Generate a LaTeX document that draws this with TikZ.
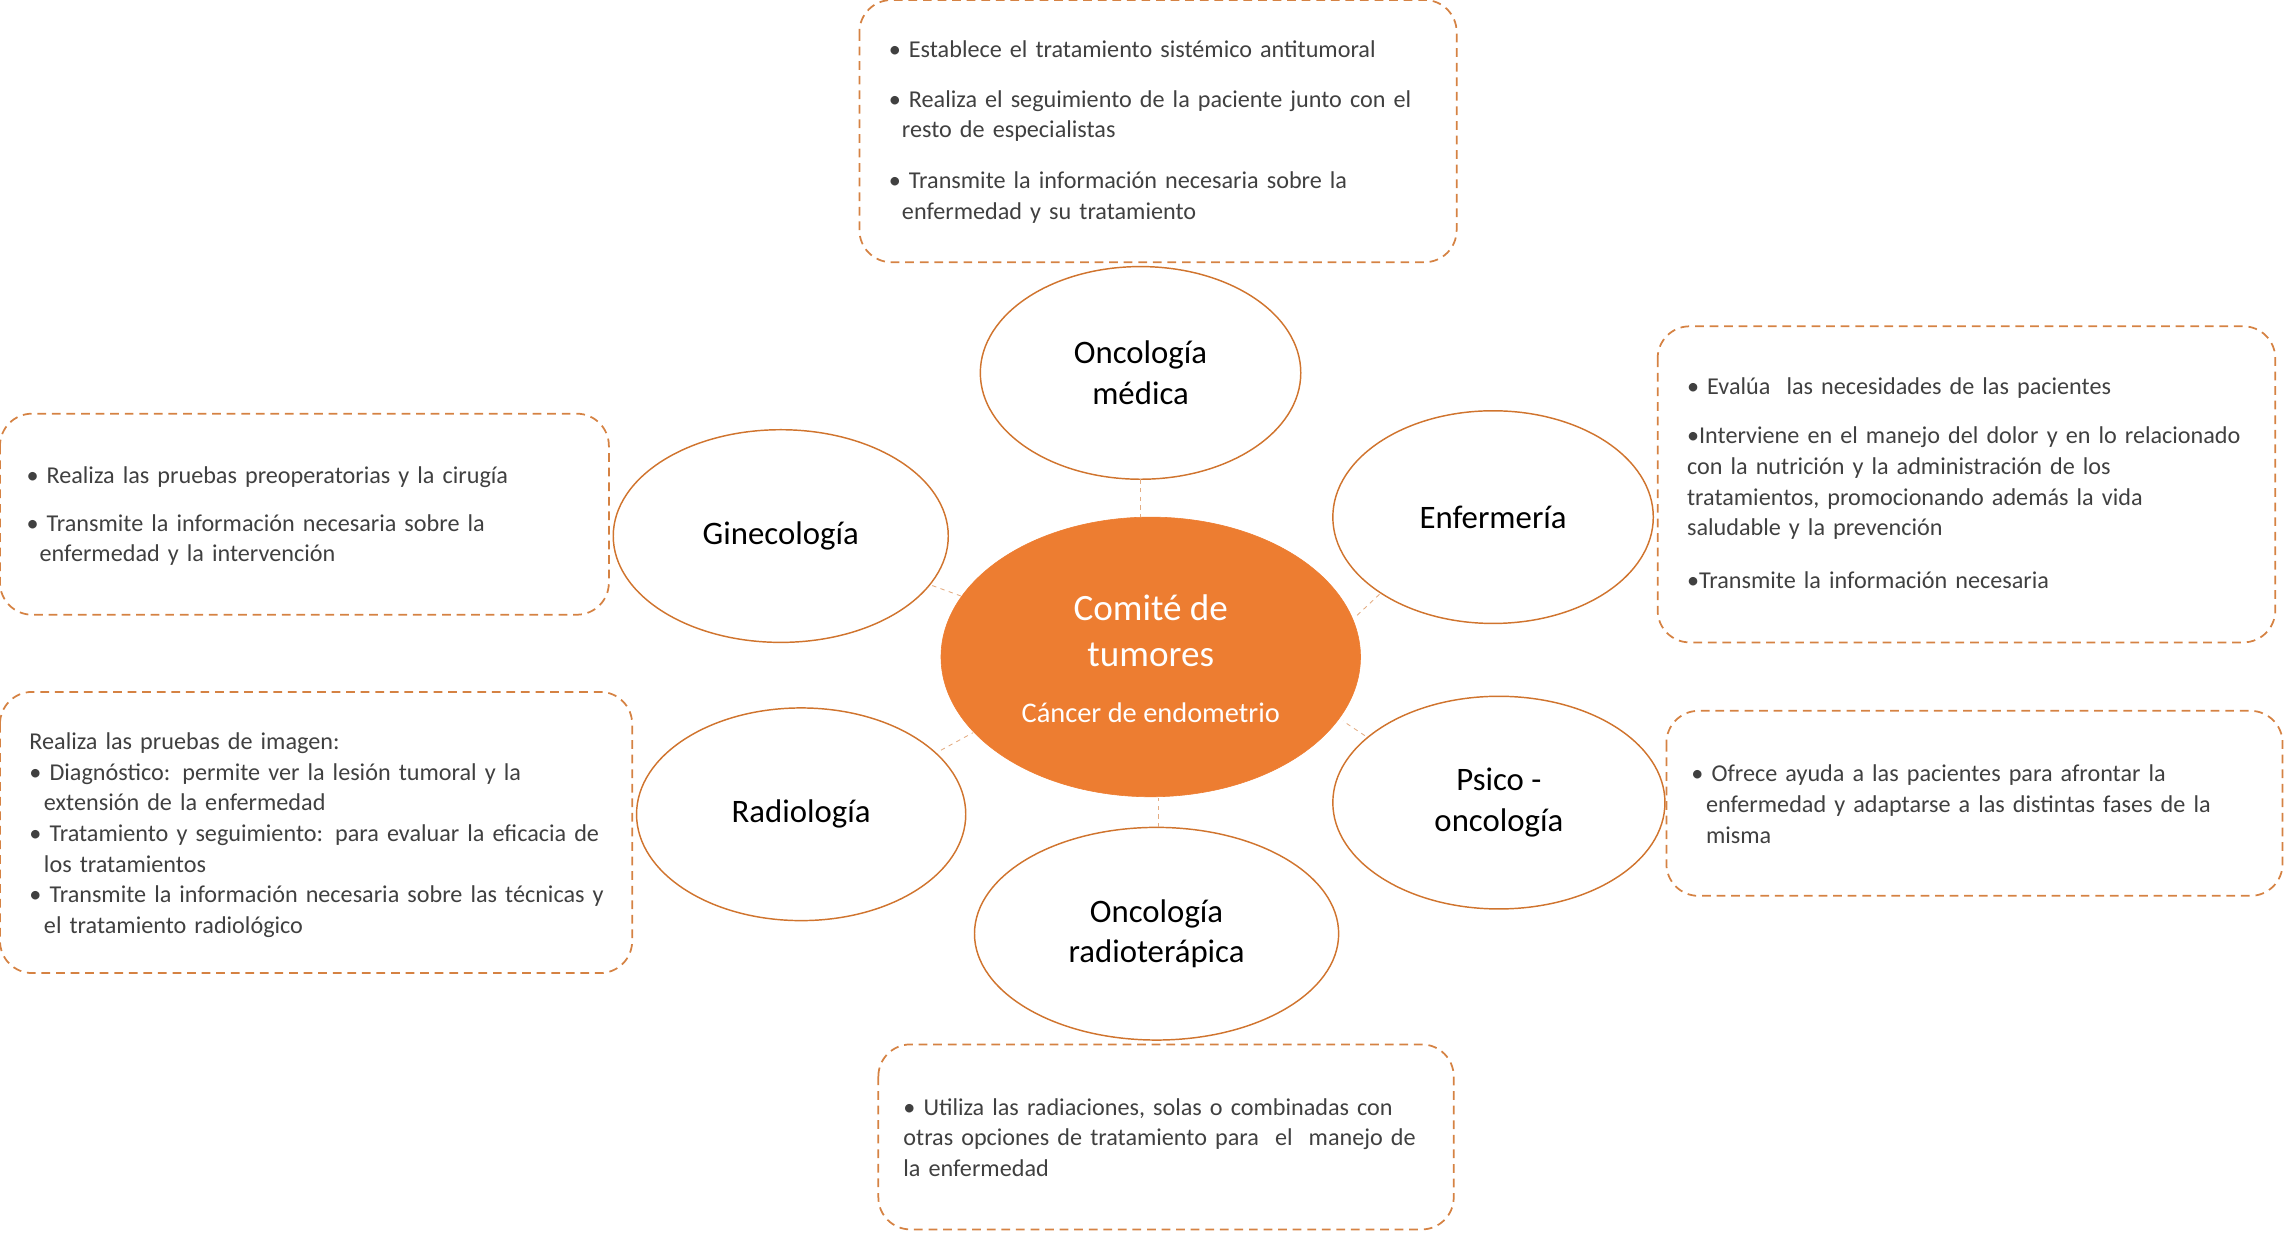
\documentclass[tikz,border=0pt]{standalone}
\usepackage{fontspec}
\setmainfont{Carlito}
\usetikzlibrary{shapes.geometric}
\begin{document}
\begin{tikzpicture}[x=1pt,y=1pt,
  box/.style={draw=orcol!90,line width=1.2pt,rounded corners=22pt,dash pattern=on 6pt off 4pt},
  btext/.style={anchor=north west,align=left,inner sep=0pt,text=txt,font=\fontsize{16.6}{21}\selectfont},
  lab/.style={font=\fontsize{22.5}{28}\selectfont,align=center},
  con/.style={draw=orcol!60,dashed,line width=0.6pt},
  ellshape/.style={draw=orcol,line width=1pt}]
\definecolor{orcol}{HTML}{D0742E}
\definecolor{fillor}{HTML}{ED7D31}
\definecolor{txt}{HTML}{404040}
\useasboundingbox (0,0) rectangle (1568,-847);
\draw[fill=fillor,draw=fillor] (790,-451) ellipse (144 and 96);
\node[text=white,align=center,font=\fontsize{25.5}{31}\selectfont] (c) at (790,-433) {Comité de\\tumores};
\node[text=white,font=\fontsize{19.5}{22}\selectfont] (c2) at (790,-489) {Cáncer de endometrio};
\draw[ellshape] (783,-256) ellipse (110 and 73);
\node[lab] (om) at (783,-256) {Oncología\\médica};
\draw[ellshape] (1025,-355) ellipse (110 and 73);
\node[lab] (en) at (1025,-355) {Enfermería};
\draw[ellshape] (536,-368) ellipse (115 and 73);
\node[lab] (gi) at (536,-368) {Ginecología};
\draw[ellshape] (550,-559) ellipse (113 and 73);
\node[lab] (ra) at (550,-559) {Radiología};
\draw[ellshape] (1029,-551) ellipse (114 and 73);
\node[lab] (ps) at (1029,-551) {Psico -\\oncología};
\draw[ellshape] (794,-641) ellipse (125 and 73);
\node[lab] (rt) at (794,-641) {Oncología\\radioterápica};
\coordinate (a1) at (783,-329); \coordinate (b1) at (783,-355);
\coordinate (a2) at (640,-402); \coordinate (b2) at (662,-410);
\coordinate (a3) at (947,-408); \coordinate (b3) at (930,-424);
\coordinate (a4) at (646,-515); \coordinate (b4) at (668,-503);
\coordinate (a5) at (937,-505); \coordinate (b5) at (922,-495);
\coordinate (a6) at (795,-568); \coordinate (b6) at (795,-548);
\foreach \i in {1,...,6} \draw[con] (a\i) -- (b\i);
\draw[box] (590,0) rectangle (1000,-180);
\node[btext,text width=380pt] (t1) at (610,-28) {• Establece el tratamiento sistémico antitumoral\\[13pt]• Realiza el seguimiento de la paciente junto con el\\\hspace*{9pt}resto de especialistas\\[14pt]• Transmite la información necesaria sobre la\\\hspace*{9pt}enfermedad y su tratamiento};
\draw[box] (1138,-224) rectangle (1562,-441);
\node[btext,text width=400pt] (t2) at (1158,-259) {• Evalúa\ \ las necesidades de las pacientes\\[13pt]•Interviene en el manejo del dolor y en lo relacionado\\con la nutrición y la administración de los\\tratamientos, promocionando además la vida\\saludable y la prevención\\[15pt]•Transmite la información necesaria};
\draw[box] (0,-284) rectangle (418,-422);
\node[btext,text width=410pt] (t3) at (18,-320) {• Realiza las pruebas preoperatorias y la cirugía\\[12pt]• Transmite la información necesaria sobre la\\\hspace*{9pt}enfermedad y la intervención};
\draw[box] (0,-475) rectangle (434,-668);
\node[btext,text width=420pt] (t4) at (20,-503) {Realiza las pruebas de imagen:\\• Diagnóstico: permite ver la lesión tumoral y la\\\hspace*{10pt}extensión de la enfermedad\\• Tratamiento y seguimiento: para evaluar la eficacia de\\\hspace*{10pt}los tratamientos\\• Transmite la información necesaria sobre las técnicas y\\\hspace*{10pt}el tratamiento radiológico};
\draw[box] (1144,-488) rectangle (1567,-615);
\node[btext,text width=410pt] (t5) at (1161,-525) {• Ofrece ayuda a las pacientes para afrontar la\\\hspace*{10pt}enfermedad y adaptarse a las distintas fases de la\\\hspace*{10pt}misma};
\draw[box] (603,-717) rectangle (998,-844);
\node[btext,text width=390pt] (t6) at (620,-754) {• Utiliza las radiaciones, solas o combinadas con\\otras opciones de tratamiento para\ \ el\ \ manejo de\\la enfermedad};
\end{tikzpicture}
\end{document}
